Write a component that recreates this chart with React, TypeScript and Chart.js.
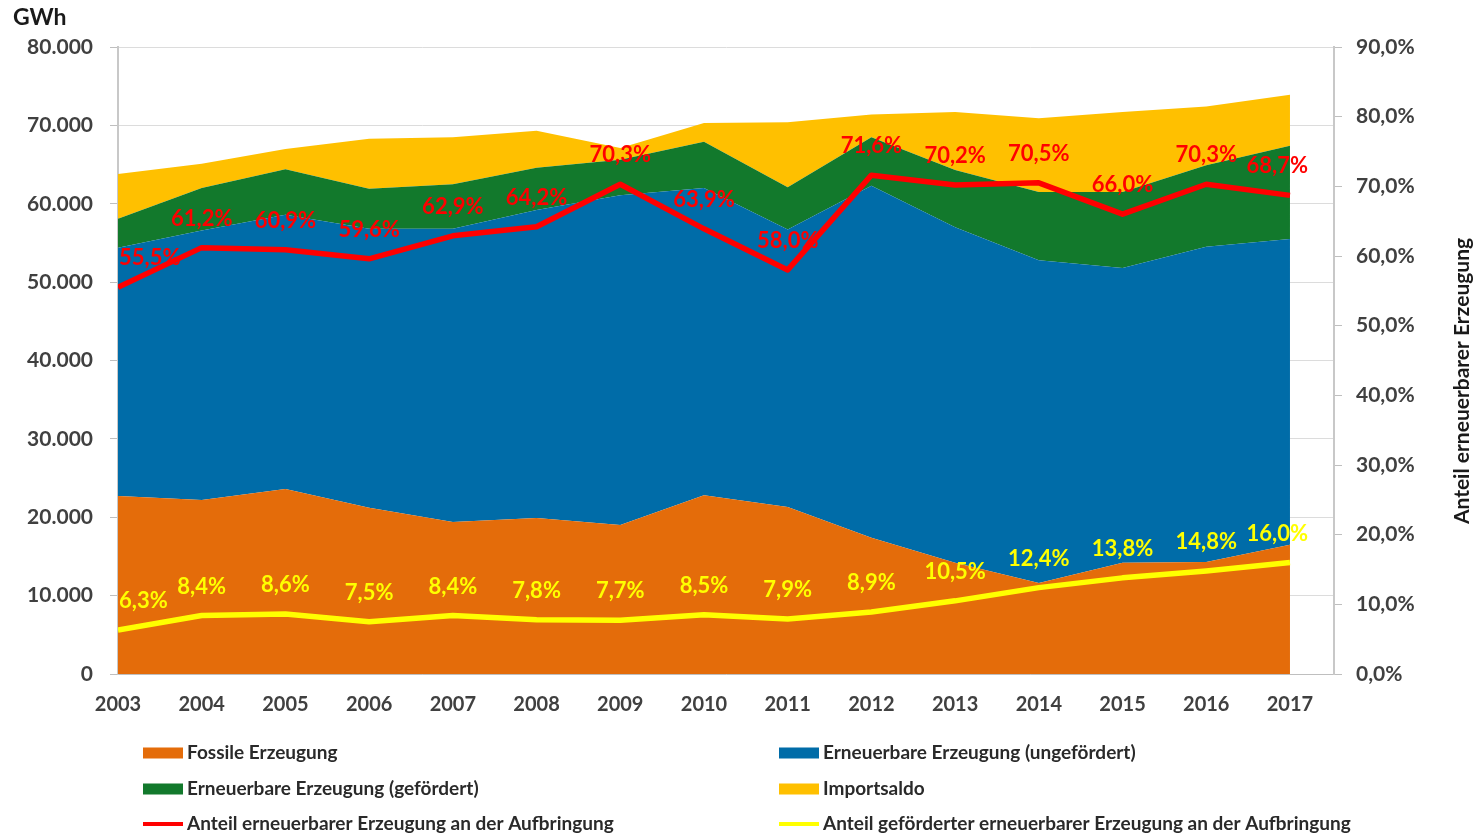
import React, { useEffect, useRef } from "react";
import { Chart, registerables } from "chart.js";

Chart.register(...registerables);

// ---- Data (GWh) ----
const years = [2003, 2004, 2005, 2006, 2007, 2008, 2009, 2010, 2011, 2012, 2013, 2014, 2015, 2016, 2017];
const fossil = [22700, 22200, 23600, 21200, 19400, 19900, 19000, 22800, 21300, 17400, 14200, 11600, 14200, 14300, 16500];
const renewUnsub = [31700, 34400, 35000, 35600, 37400, 39300, 42100, 39200, 35400, 44900, 42800, 41200, 37600, 40200, 39000];
const renewSub = [3700, 5400, 5800, 5100, 5700, 5400, 4500, 5900, 5400, 6200, 7300, 8700, 9700, 10400, 11900];
const importSaldo = [5700, 3100, 2600, 6400, 6000, 4700, 1500, 2400, 8300, 2900, 7400, 9400, 10200, 7500, 6500];
// ---- Shares (%) ----
const shareRenew = [55.5, 61.2, 60.9, 59.6, 62.9, 64.2, 70.3, 63.9, 58.0, 71.6, 70.2, 70.5, 66.0, 70.3, 68.7];
const shareSub = [6.3, 8.4, 8.6, 7.5, 8.4, 7.8, 7.7, 8.5, 7.9, 8.9, 10.5, 12.4, 13.8, 14.8, 16.0];
// ---- Axis ticks ----
const leftTicks = [0, 10000, 20000, 30000, 40000, 50000, 60000, 70000, 80000];
const rightTicks = [0, 10, 20, 30, 40, 50, 60, 70, 80, 90];

const seriesLabels = [
  "Fossile Erzeugung",
  "Erneuerbare Erzeugung (ungefördert)",
  "Erneuerbare Erzeugung (gefördert)",
  "Importsaldo",
  "Anteil erneuerbarer Erzeugung an der Aufbringung",
  "Anteil geförderter erneuerbarer Erzeugung an der Aufbringung",
];

const FONT = "Lato, 'Noto Sans', sans-serif";
const TXT = "#404040";
const COLORS = ["#E46C0A", "#006CA8", "#12792C", "#FFC000", "#FF0000", "#FFFF00"];

const fmtGWh = (v: number) => (v === 0 ? "0" : `${Math.round(v / 1000)}.000`);
const fmtPct = (v: number) => `${v.toFixed(1).replace(".", ",")}%`;

const pts = (arr: number[]) => years.map((x, i) => ({ x, y: arr[i] }));

const extrasPlugin = {
  id: "extras",
  afterDatasetsDraw(chart: any) {
    const ctx = chart.ctx;
    const area = chart.chartArea;
    ctx.save();
    ctx.font = `bold 22px ${FONT}`;
    ctx.textBaseline = "middle";
    ctx.textAlign = "left";
    [4, 5].forEach((di) => {
      const meta = chart.getDatasetMeta(di);
      const vals = di === 4 ? shareRenew : shareSub;
      ctx.fillStyle = COLORS[di];
      meta.data.forEach((p: any, i: number) => {
        const txt = fmtPct(vals[i]);
        const w = ctx.measureText(txt).width;
        let left = p.x - w / 2;
        if (left < area.left + 1) left = area.left + 1;
        if (left + w > area.right - 26) left = area.right - 26 - w;
        ctx.fillText(txt, left, p.y - 29);
      });
    });
    ctx.restore();
  },
  afterDraw(chart: any) {
    const ctx = chart.ctx;
    ctx.save();
    // GWh unit
    ctx.fillStyle = "#1a1a1a";
    ctx.font = `bold 23px ${FONT}`;
    ctx.textBaseline = "middle";
    ctx.textAlign = "left";
    ctx.fillText("GWh", 13, 18);
    // right axis title (reads bottom to top)
    ctx.save();
    ctx.translate(1462, 381);
    ctx.rotate(-Math.PI / 2);
    ctx.textAlign = "center";
    ctx.font = `bold 21px ${FONT}`;
    ctx.fillStyle = "#1a1a1a";
    ctx.fillText("Anteil erneuerbarer Erzeugung", 0, 0);
    ctx.restore();
    // legend
    const cols = [143, 779];
    const rows = [753, 789, 824];
    ctx.font = `bold 19px ${FONT}`;
    ctx.textAlign = "left";
    seriesLabels.forEach((lab, i) => {
      const cx = cols[i % 2];
      const cy = rows[Math.floor(i / 2)];
      ctx.fillStyle = COLORS[i];
      if (i < 4) ctx.fillRect(cx, cy - 5.5, 40, 11);
      else ctx.fillRect(cx, cy - 2, 40, 4);
      ctx.fillStyle = "#2a2a2a";
      ctx.fillText(lab, cx + 44, cy);
    });
    ctx.restore();
  },
};

export default function App() {
  const ref = useRef<HTMLCanvasElement | null>(null);
  useEffect(() => {
    document.body.style.margin = "0";
    const canvas = ref.current;
    if (!canvas) return;
    const areaDs = (i: number, arr: number[]) => ({
      label: seriesLabels[i],
      data: pts(arr),
      backgroundColor: COLORS[i],
      borderColor: COLORS[i],
      borderWidth: 0,
      pointRadius: 0,
      fill: i === 0 ? "origin" : "-1",
      yAxisID: "y",
      order: 1,
      tension: 0,
    });
    const lineDs = (i: number, arr: number[]) => ({
      label: seriesLabels[i],
      data: pts(arr),
      borderColor: COLORS[i],
      backgroundColor: COLORS[i],
      borderWidth: 5.5,
      pointRadius: 0,
      fill: false,
      yAxisID: "y1",
      order: 0,
      tension: 0,
      borderJoinStyle: "round",
    });
    const chart = new Chart(canvas, {
      type: "line",
      data: {
        datasets: [
          areaDs(0, fossil),
          areaDs(1, renewUnsub),
          areaDs(2, renewSub),
          areaDs(3, importSaldo),
          lineDs(4, shareRenew),
          lineDs(5, shareSub),
        ] as any,
      },
      options: {
        responsive: false,
        animation: false,
        devicePixelRatio: 1,
        layout: { padding: { top: 47, left: 0, right: 0, bottom: 0 } },
        plugins: { legend: { display: false }, tooltip: { enabled: false }, title: { display: false } },
        scales: {
          x: {
            type: "linear",
            min: years[0],
            max: years[years.length - 1] + 0.526,
            afterBuildTicks: (s: any) => {
              s.ticks = years.map((v) => ({ value: v }));
            },
            afterFit: (s: any) => {
              s.height = 159;
            },
            ticks: {
              callback: (v: any) => String(v),
              font: { family: FONT, size: 20, weight: "bold" },
              color: TXT,
              padding: 19,
              autoSkip: false,
              maxRotation: 0,
            },
            grid: { display: false, drawTicks: false },
            border: { display: true, color: "#bfbfbf", width: 1 },
          },
          y: {
            type: "linear",
            position: "left",
            stacked: true,
            min: 0,
            max: 80000,
            afterBuildTicks: (s: any) => {
              s.ticks = leftTicks.map((v) => ({ value: v }));
            },
            afterFit: (s: any) => {
              s.width = 118;
            },
            ticks: {
              callback: (v: any) => fmtGWh(Number(v)),
              font: { family: FONT, size: 21, weight: "bold" },
              color: TXT,
              padding: 17,
            },
            grid: { color: "#dcdcdc", tickLength: 8, tickColor: "#bfbfbf", lineWidth: 1 },
            border: { color: "#c8c8c8", width: 2 },
          },
          y1: {
            type: "linear",
            position: "right",
            min: 0,
            max: 90,
            afterBuildTicks: (s: any) => {
              s.ticks = rightTicks.map((v) => ({ value: v }));
            },
            afterFit: (s: any) => {
              s.width = 139;
            },
            ticks: {
              callback: (v: any) => fmtPct(Number(v)),
              font: { family: FONT, size: 21, weight: "bold" },
              color: TXT,
              padding: 14,
            },
            grid: { drawOnChartArea: false, tickLength: 8, tickColor: "#bfbfbf" },
            border: { color: "#c8c8c8", width: 2 },
          },
        },
      } as any,
      plugins: [extrasPlugin],
    });
    return () => chart.destroy();
  }, []);
  return (
    <div style={{ position: "absolute", left: 0, top: 0, width: 1473, height: 833 }}>
      <canvas ref={ref} width={1473} height={833} style={{ display: "block" }} />
    </div>
  );
}
